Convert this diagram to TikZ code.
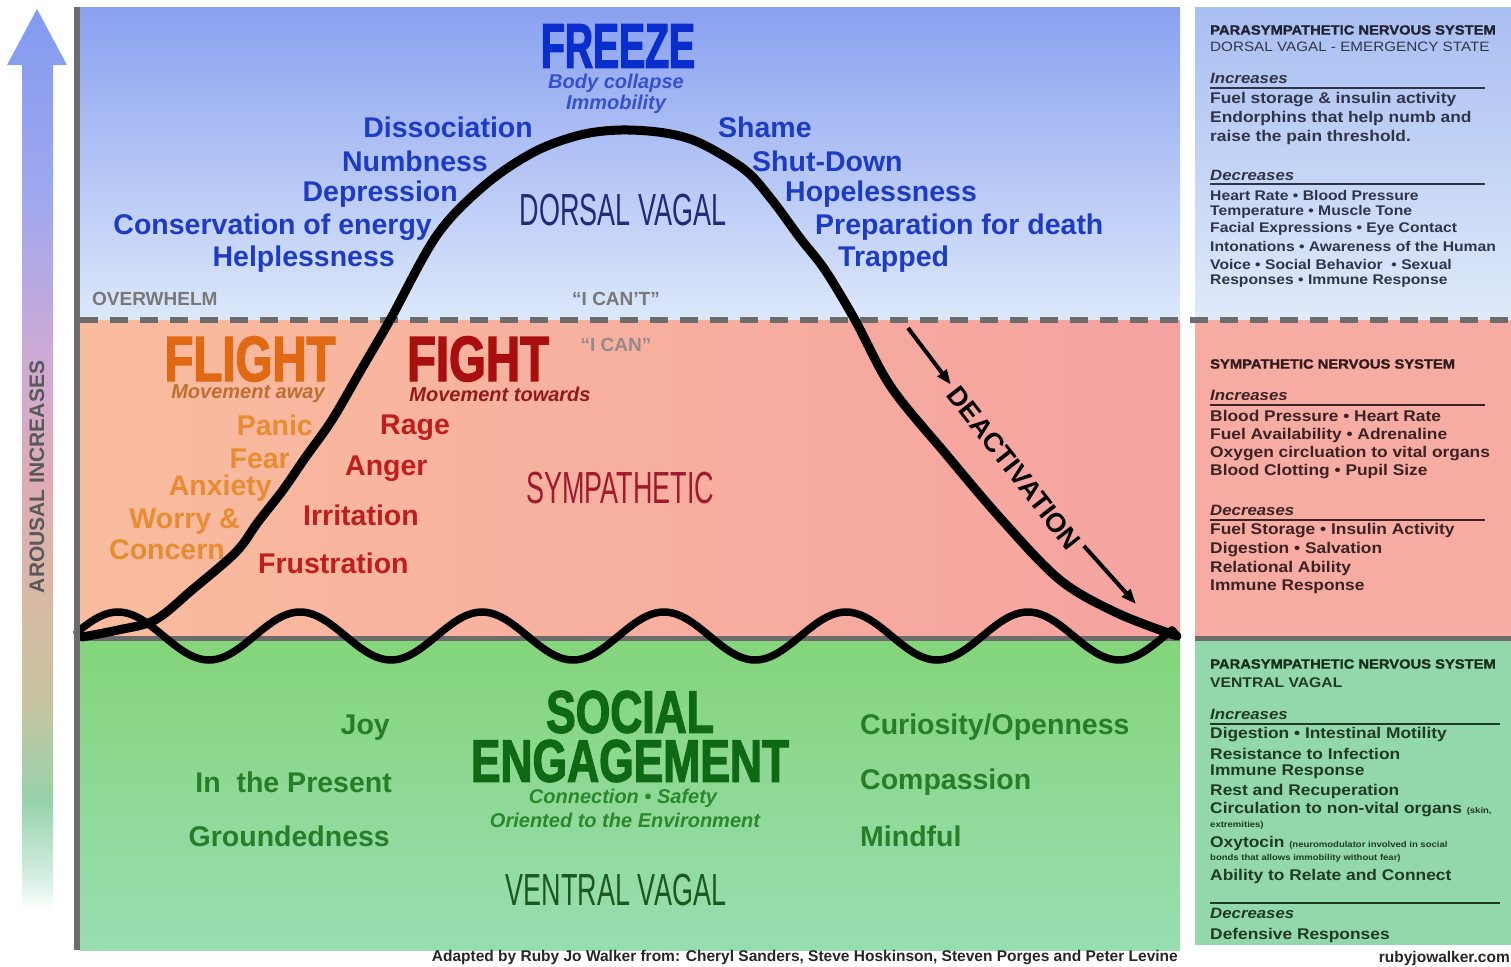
\documentclass[tikz,border=0pt]{standalone}
\usepackage{fontspec}
\setmainfont{Liberation Sans}
\newfontfamily\heavyfont[FakeStretch=0.74, FakeBold=2]{Liberation Sans}
\newfontfamily\freezefont[FakeStretch=0.62, FakeBold=2]{Liberation Sans}
\newfontfamily\narrowfont[FakeStretch=0.6]{Liberation Sans}
\newfontfamily\panelfont[FakeStretch=1.12]{Liberation Sans}
\newfontfamily\paneltitlefont[FakeStretch=1.1, FakeBold=1.5]{Liberation Sans}
\usetikzlibrary{arrows.meta}
\usepackage{xcolor}
% zone fills
\definecolor{bluetop}{HTML}{8AA1F0}
\definecolor{bluebot}{HTML}{DCE8FA}
\definecolor{redleft}{HTML}{F9BC9E}
\definecolor{redright}{HTML}{F5A3A0}
\definecolor{greentop}{HTML}{84D57A}
\definecolor{greenbot}{HTML}{98DDB2}
\definecolor{sidebluetop}{HTML}{A9BEF2}
\definecolor{sidebluebot}{HTML}{DFEAF9}
\definecolor{sidered}{HTML}{F6ABA3}
\definecolor{sidegreen}{HTML}{93D8AA}
\definecolor{linegray}{HTML}{6C6C6C}
% text colours
\definecolor{dvblue}{HTML}{1E3CC3}
\definecolor{freezeblue}{HTML}{0A2DCD}
\definecolor{freezesub}{HTML}{3750CD}
\definecolor{dvdark}{HTML}{1E2D78}
\definecolor{flightorange}{HTML}{E16914}
\definecolor{flightitem}{HTML}{E88C32}
\definecolor{awaybrown}{HTML}{BE6E32}
\definecolor{fightred}{HTML}{AA0F0F}
\definecolor{fightitem}{HTML}{BE1E1E}
\definecolor{towardsred}{HTML}{961919}
\definecolor{sympred}{HTML}{A0192D}
\definecolor{segreen}{HTML}{0F6914}
\definecolor{vvitem}{HTML}{287D28}
\definecolor{vvsub}{HTML}{2D872D}
\definecolor{vvdark}{HTML}{1A5A1E}
\definecolor{capgray}{HTML}{787878}
\definecolor{canlight}{HTML}{958A8A}
\definecolor{inkblue}{HTML}{30344A}
\definecolor{inkred}{HTML}{3C2222}
\definecolor{inkgreen}{HTML}{203A24}
% arousal bar
\definecolor{arA}{HTML}{D7F0E4}
\definecolor{arB}{HTML}{96D2AC}
\definecolor{arC}{HTML}{C8C3A0}
\definecolor{arD}{HTML}{D7B9A5}
\definecolor{arE}{HTML}{DEACB6}
\definecolor{arF}{HTML}{CDAAD7}
\definecolor{arG}{HTML}{A0A8EE}
\definecolor{arH}{HTML}{829BF0}
\pgfdeclareverticalshading{arousal}{100bp}{color(0bp)=(white); color(25bp)=(white);
  color(26.7bp)=(arA); color(31bp)=(arB); color(36.7bp)=(arC); color(42.2bp)=(arD);
  color(48.9bp)=(arE); color(56bp)=(arF); color(64.4bp)=(arG); color(75bp)=(arH); color(100bp)=(arH)}

\tikzset{
  bell/.style={line width=9pt, line cap=round, line join=round},
  wave/.style={line width=7.5pt, line cap=round, line join=round},
  divider/.style={linegray, line width=6pt, dash pattern=on 18pt off 12pt},
  floorline/.style={linegray, line width=5pt},
  bigword/.style={inner sep=0pt, font={\heavyfont\bfseries\fontsize{64}{64}\selectfont}},
  statename/.style={inner sep=0pt, font={\narrowfont\fontsize{45}{45}\selectfont}},
  item/.style={inner sep=0pt, font={\bfseries\fontsize{28.5}{30}\selectfont}},
  subline/.style={inner sep=0pt, font={\bfseries\itshape\fontsize{20}{21}\selectfont}},
  quote/.style={inner sep=0pt, font={\bfseries\fontsize{19}{19}\selectfont}},
  deact/.style={inner sep=5pt, font={\bfseries\fontsize{27}{27}\selectfont}},
  deactarrow/.style={-{Triangle[length=15pt,width=11pt]}, line width=4pt},
  arousaltext/.style={inner sep=0pt, rotate=90, text=black!65, font={\bfseries\fontsize{21}{21}\selectfont}},
  paneltitle/.style={anchor=west, inner sep=0pt, font={\paneltitlefont\bfseries\fontsize{13.4}{14}\selectfont}},
  panelsub/.style={anchor=west, inner sep=0pt, font={\panelfont\fontsize{13.6}{14}\selectfont}},
  panelhead/.style={anchor=west, inner sep=0pt, font={\panelfont\bfseries\itshape\fontsize{15}{15}\selectfont}},
  panelline/.style={anchor=west, inner sep=0pt, font={\panelfont\bfseries\fontsize{15.5}{16}\selectfont}},
  panelsmall/.style={anchor=west, inner sep=0pt, font={\panelfont\bfseries\fontsize{14}{15}\selectfont}},
  panelrule/.style={line width=1.4pt},
  credit/.style={inner sep=0pt, text=black!85, font={\bfseries\fontsize{15.5}{16}\selectfont}}
}
\newcommand{\notesize}{\fontsize{8.5}{9}\selectfont}

\begin{document}
\begin{tikzpicture}[x=1pt, y=-1pt]
  \useasboundingbox (0,0) rectangle (1511,966);

  % three zones of the chart and the side panel
  \fill[top color=bluetop, bottom color=bluebot] (80,8) rectangle (1180,320);
  \fill[left color=redleft, right color=redright] (80,320) rectangle (1180,638);
  \fill[top color=greentop, bottom color=greenbot] (80,638) rectangle (1180,950);
  \fill[top color=sidebluetop, bottom color=sidebluebot] (1195,8) rectangle (1511,320);
  \fill[sidered] (1195,320) rectangle (1511,638);
  \fill[sidegreen] (1195,638) rectangle (1511,945);
  \draw[divider] (80,320) -- (1511,320);
  \draw[floorline] (80,638) -- (1180,638);
  \draw[floorline] (1195,638) -- (1511,638);

  % arousal bar
  \shade[shading=arousal] (37,9) -- (67,65) -- (53,65) -- (53,910) -- (22,910) -- (22,65) -- (7,65) -- cycle;
  \node[arousaltext] (arousal) at (37,477) {AROUSAL INCREASES};

  % dorsal vagal zone
  \node[inner sep=0pt, text=freezeblue, font={\freezefont\bfseries\fontsize{63}{63}\selectfont}] (freeze) at (618,46) {FREEZE};
  \node[subline, text=freezesub] (collapse) at (616,83) {Body collapse};
  \node[subline, text=freezesub] (immobility) at (616,104) {Immobility};
  \node[item, text=dvblue, anchor=east] (dissociation) at (533,127) {Dissociation};
  \node[item, text=dvblue, anchor=east] (numbness) at (488,161) {Numbness};
  \node[item, text=dvblue, anchor=east] (depression) at (458,194) {Depression};
  \node[item, text=dvblue, anchor=east] (conservation) at (432,227) {Conservation of energy};
  \node[item, text=dvblue, anchor=east] (helplessness) at (395,259) {Helplessness};
  \node[item, text=dvblue, anchor=west] (shame) at (718,127) {Shame};
  \node[item, text=dvblue, anchor=west] (shutdown) at (752,161) {Shut-Down};
  \node[item, text=dvblue, anchor=west] (hopelessness) at (785,194) {Hopelessness};
  \node[item, text=dvblue, anchor=west] (preparation) at (815,227) {Preparation for death};
  \node[item, text=dvblue, anchor=west] (trapped) at (838,259) {Trapped};
  \node[statename, text=dvdark] (dorsal) at (623,210) {DORSAL VAGAL};
  \node[quote, text=capgray, anchor=west] (overwhelm) at (92,299) {OVERWHELM};
  \node[quote, text=capgray] (icant) at (616,299) {“I CAN’T”};

  % sympathetic zone
  \node[quote, text=canlight] (ican) at (616,345) {“I CAN”};
  \node[bigword, text=flightorange] (flight) at (250,359) {FLIGHT};
  \node[bigword, text=fightred] (fight) at (478,359) {FIGHT};
  \node[subline, text=awaybrown] (away) at (248,394) {Movement away};
  \node[subline, text=towardsred] (towards) at (500,394) {Movement towards};
  \node[item, text=flightitem, anchor=east] (panic) at (313,425) {Panic};
  \node[item, text=flightitem, anchor=east] (fear) at (290,459) {Fear};
  \node[item, text=flightitem, anchor=east] (anxiety) at (272,488) {Anxiety};
  \node[item, text=flightitem, anchor=east] (worry) at (240,522) {Worry \&};
  \node[item, text=flightitem, anchor=east] (concern) at (225,550) {Concern};
  \node[item, text=fightitem, anchor=west] (rage) at (380,428) {Rage};
  \node[item, text=fightitem, anchor=west] (anger) at (345,469) {Anger};
  \node[item, text=fightitem, anchor=west] (irritation) at (303,515) {Irritation};
  \node[item, text=fightitem, anchor=west] (frustration) at (258,563) {Frustration};
  \node[statename, text=sympred] (sympathetic) at (620,488) {SYMPATHETIC};

  % ventral vagal zone
  \node[bigword, text=segreen, font={\heavyfont\bfseries\fontsize{60}{60}\selectfont}] (social) at (630,712) {SOCIAL};
  \node[bigword, text=segreen, font={\heavyfont\bfseries\fontsize{60}{60}\selectfont}] (engagement) at (630,761) {ENGAGEMENT};
  \node[subline, text=vvsub] (connection) at (623,798) {Connection • Safety};
  \node[subline, text=vvsub] (oriented) at (625,820) {Oriented to the Environment};
  \node[item, text=vvitem, anchor=east] (joy) at (390,728) {Joy};
  \node[item, text=vvitem, anchor=east] (present) at (392,782) {In\ \ the Present};
  \node[item, text=vvitem, anchor=east] (grounded) at (390,836) {Groundedness};
  \node[item, text=vvitem, anchor=west] (curiosity) at (860,727) {Curiosity/Openness};
  \node[item, text=vvitem, anchor=west] (compassion) at (860,782) {Compassion};
  \node[item, text=vvitem, anchor=west] (mindful) at (860,836) {Mindful};
  \node[statename, text=vvdark] (ventral) at (616,890) {VENTRAL VAGAL};

  % the arousal curve and the resting wave (period 182, first crest at 118)
  \draw[wave] plot[domain=77:1172, samples=300] (\x, {636-24*cos(1.97802*(\x-118))}) -- (1177,636);
  \draw[bell] plot[smooth, tension=0.55] coordinates {(82,637) (118,630) (155,620) (192,590)
    (236,552) (258,522) (283,490) (305,458) (332,420) (361,370) (390,320) (437,235) (485,185)
    (534,152) (580,135) (621,130) (665,133) (700,143) (745,170) (772,200) (800,238) (825,270)
    (855,320) (891,387) (945,453) (1002,520) (1060,580) (1117,613) (1177,636)};

  % deactivation label on the falling side
  \node[deact, rotate=-52] (deactivation) at (1014,468) {DEACTIVATION};
  \coordinate (deacttop) at (908,328);
  \coordinate (deactend) at (1136,604);
  \draw[deactarrow] (deacttop) -- (deactivation);
  \draw[deactarrow] (deactivation) -- (deactend);

  % left edge of the chart
  \draw[linegray, line width=6pt] (77,7) -- (77,950);

  % side panel: dorsal vagal
  \node[paneltitle, text=inkblue!70!black] (dtitle) at (1210,30) {PARASYMPATHETIC NERVOUS SYSTEM};
  \node[panelsub, text=inkblue] (dsub) at (1210,47) {DORSAL VAGAL - EMERGENCY STATE};
  \node[panelhead, text=inkblue] (dinc) at (1210,78) {Increases};
  \draw[panelrule, inkblue] (1210,88) -- (1485,88);
  \node[panelline, text=inkblue] (dinc1) at (1210,100) {Fuel storage \& insulin activity};
  \node[panelline, text=inkblue] (dinc2) at (1210,118) {Endorphins that help numb and};
  \node[panelline, text=inkblue] (dinc3) at (1210,137) {raise the pain threshold.};
  \node[panelhead, text=inkblue] (ddec) at (1210,175) {Decreases};
  \draw[panelrule, inkblue] (1210,184) -- (1485,184);
  \node[panelsmall, text=inkblue] (ddec1) at (1210,195) {Heart Rate • Blood Pressure};
  \node[panelsmall, text=inkblue] (ddec2) at (1210,212) {Temperature • Muscle Tone};
  \node[panelsmall, text=inkblue] (ddec3) at (1210,229) {Facial Expressions • Eye Contact};
  \node[panelsmall, text=inkblue] (ddec4) at (1210,246) {Intonations • Awareness of the Human};
  \node[panelsmall, text=inkblue] (ddec5) at (1210,264) {Voice • Social Behavior\ \ • Sexual};
  \node[panelsmall, text=inkblue] (ddec6) at (1210,281) {Responses • Immune Response};

  % side panel: sympathetic
  \node[paneltitle, text=inkred!80!black] (stitle) at (1210,364) {SYMPATHETIC NERVOUS SYSTEM};
  \node[panelhead, text=inkred] (sinc) at (1210,395) {Increases};
  \draw[panelrule, inkred] (1210,405) -- (1485,405);
  \node[panelline, text=inkred] (sinc1) at (1210,416) {Blood Pressure • Heart Rate};
  \node[panelline, text=inkred] (sinc2) at (1210,435) {Fuel Availability • Adrenaline};
  \node[panelline, text=inkred] (sinc3) at (1210,454) {Oxygen circluation to vital organs};
  \node[panelline, text=inkred] (sinc4) at (1210,472) {Blood Clotting • Pupil Size};
  \node[panelhead, text=inkred] (sdec) at (1210,510) {Decreases};
  \draw[panelrule, inkred] (1210,520) -- (1485,520);
  \node[panelline, text=inkred] (sdec1) at (1210,531) {Fuel Storage • Insulin Activity};
  \node[panelline, text=inkred] (sdec2) at (1210,550) {Digestion • Salvation};
  \node[panelline, text=inkred] (sdec3) at (1210,568) {Relational Ability};
  \node[panelline, text=inkred] (sdec4) at (1210,587) {Immune Response};

  % side panel: ventral vagal
  \node[paneltitle, text=inkgreen!80!black] (vtitle) at (1210,664) {PARASYMPATHETIC NERVOUS SYSTEM};
  \node[panelsub, text=inkgreen, font={\panelfont\bfseries\fontsize{14}{14}\selectfont}] (vsub) at (1210,683) {VENTRAL VAGAL};
  \node[panelhead, text=inkgreen] (vinc) at (1210,714) {Increases};
  \draw[panelrule, inkgreen] (1210,724) -- (1500,724);
  \node[panelline, text=inkgreen] (vinc1) at (1210,735) {Digestion • Intestinal Motility};
  \node[panelline, text=inkgreen] (vinc2) at (1210,754) {Resistance to Infection};
  \node[panelline, text=inkgreen] (vinc3) at (1210,772) {Immune Response};
  \node[panelline, text=inkgreen] (vinc4) at (1210,791) {Rest and Recuperation};
  \node[panelline, text=inkgreen] (vinc5) at (1210,810) {Circulation to non-vital organs {\notesize (skin,}};
  \node[panelline, text=inkgreen, font={\panelfont\bfseries\notesize}] (vinc6) at (1210,825) {extremities)};
  \node[panelline, text=inkgreen] (vinc7) at (1210,843) {Oxytocin {\notesize (neuromodulator involved in social}};
  \node[panelline, text=inkgreen, font={\panelfont\bfseries\notesize}] (vinc8) at (1210,858) {bonds that allows immobility without fear)};
  \node[panelline, text=inkgreen] (vinc9) at (1210,876) {Ability to Relate and Connect};
  \draw[panelrule, inkgreen] (1210,903) -- (1500,903);
  \node[panelhead, text=inkgreen] (vdec) at (1210,913) {Decreases};
  \node[panelline, text=inkgreen] (vdec1) at (1210,935) {Defensive Responses};

  % credits
  \node[credit, anchor=east] (adapted) at (1178,958) {Adapted by Ruby Jo Walker from: Cheryl Sanders, Steve Hoskinson, Steven Porges and Peter Levine};
  \node[credit, anchor=east] (site) at (1510,958) {rubyjowalker.com};
\end{tikzpicture}
\end{document}
